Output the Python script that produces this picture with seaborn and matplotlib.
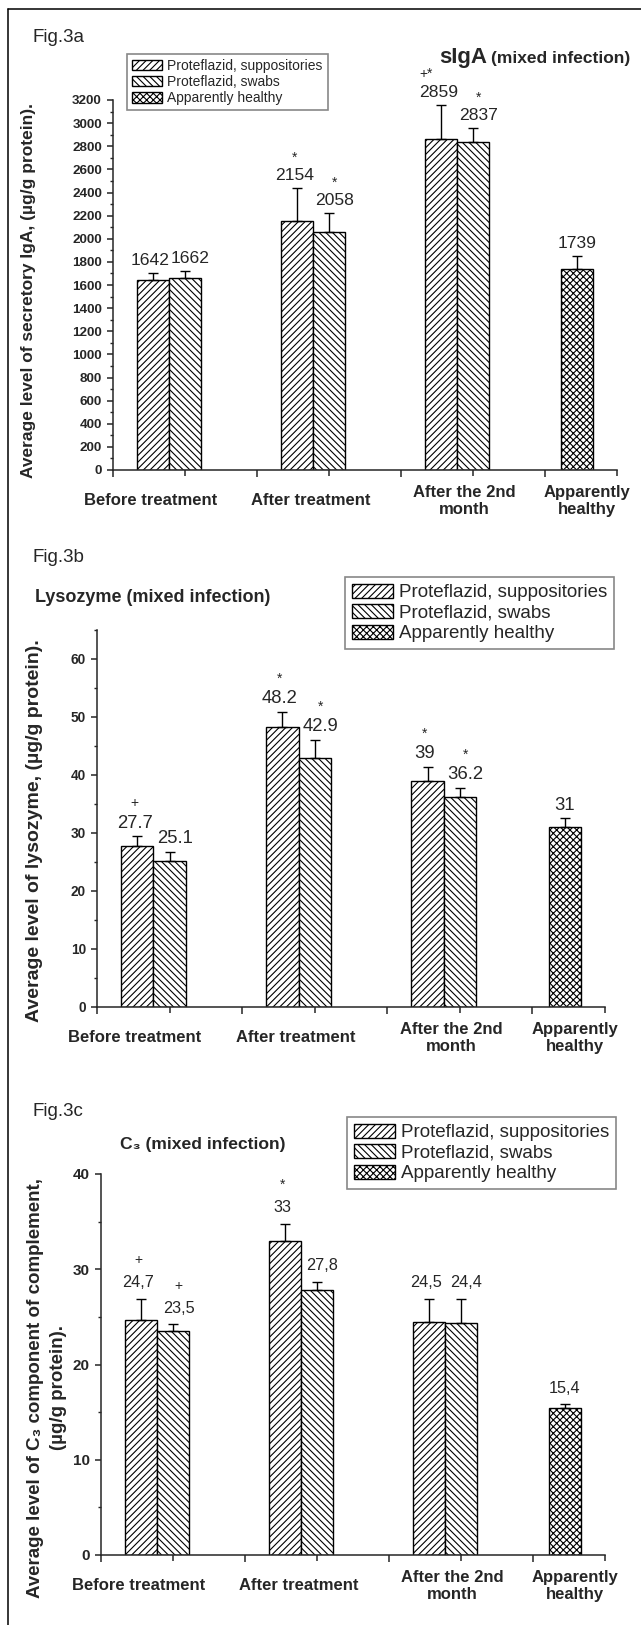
import matplotlib
matplotlib.use("Agg")
import numpy as np
import pandas as pd
import matplotlib.pyplot as plt
from matplotlib.patches import Patch
from matplotlib.lines import Line2D
from matplotlib.ticker import MultipleLocator
import seaborn as sns

# chart data
categories = ["Before treatment", "After treatment", "After the 2nd\nmonth", "Apparently\nhealthy"]
series = ["Proteflazid, suppositories", "Proteflazid, swabs", "Apparently healthy"]

siga_supp = [1642, 2154, 2859]
siga_supp_err = [60, 285, 300]
siga_swab = [1662, 2058, 2837]
siga_swab_err = [63, 165, 122]
siga_healthy = 1739
siga_healthy_err = 110
siga_supp_marks = ["", "*", "+*"]
siga_swab_marks = ["", "*", "*"]

lys_supp = [27.7, 48.2, 39]
lys_supp_err = [1.7, 2.6, 2.4]
lys_swab = [25.1, 42.9, 36.2]
lys_swab_err = [1.6, 3.1, 1.6]
lys_healthy = 31
lys_healthy_err = 1.5
lys_supp_marks = ["+", "*", "*"]
lys_swab_marks = ["", "*", "*"]

c3_supp = [24.7, 33, 24.5]
c3_supp_err = [2.2, 1.8, 2.4]
c3_swab = [23.5, 27.8, 24.4]
c3_swab_err = [0.7, 0.9, 2.5]
c3_healthy = 15.4
c3_healthy_err = 0.45
c3_supp_marks = ["+", "*", ""]
c3_swab_marks = ["+", "", ""]

W, H = 641, 1625
sns.set_style("ticks")
plt.rcParams["font.family"] = ["Liberation Sans", "DejaVu Sans"]
plt.rcParams["hatch.linewidth"] = 0.8
plt.rcParams["axes.linewidth"] = 1.1

hatches = ["/////", "\\\\\\\\\\", "xxxxx"]
bar_w = 2 / 9
cat_label_x = [0.26, 1.37, 2.44, 3.29]


def fx(x):
    return x / W


def fy(y):
    return 1 - y / H


def draw_panel(ax, supp, supp_err, swab, swab_err, healthy, healthy_err,
               supp_marks, swab_marks, ymax, major, minor, tick_fs, val_fs,
               val_dy, mark_dy, comma=False):
    pos, vals, errs, grp, marks = [], [], [], [], []
    for i in range(3):
        pos += [i + 0.5 - bar_w, i + 0.5]
        vals += [supp[i], swab[i]]
        errs += [supp_err[i], swab_err[i]]
        grp += [series[0], series[1]]
        marks += [supp_marks[i], swab_marks[i]]
    pos.append(3 + bar_w)
    vals.append(healthy)
    errs.append(healthy_err)
    grp.append(series[2])
    marks.append("")
    df = pd.DataFrame({"pos": pos, "value": vals, "series": grp})

    sns.barplot(data=df, x="pos", y="value", hue="series", hue_order=series,
                native_scale=True, dodge=False, width=1.0, errorbar=None,
                palette=["white"] * 3, saturation=1, edgecolor="black",
                linewidth=1.0, legend=False, ax=ax)
    for p in ax.patches:
        c = p.get_x() + p.get_width() / 2
        if c > 3:
            p.set_hatch(hatches[2])
        elif c % 1 < 0.4:
            p.set_hatch(hatches[0])
        else:
            p.set_hatch(hatches[1])

    ax.errorbar(pos, vals, yerr=[np.zeros(len(errs)), errs], fmt="none",
                ecolor="black", elinewidth=1.0, capsize=3.6, capthick=1.0,
                zorder=4)

    for x, v, e, g, m in zip(pos, vals, errs, grp, marks):
        dx = -2 if g == series[0] else (4 if g == series[1] else 0)
        txt = f"{v:g}"
        if comma:
            txt = txt.replace(".", ",")
        ax.annotate(txt, xy=(x, v + e), xytext=(dx, val_dy),
                    textcoords="offset points", ha="center", va="bottom",
                    fontsize=val_fs, annotation_clip=False)
        if m:
            mdx = dx - 9 if len(m) > 1 else dx
            ax.annotate(m, xy=(x, v + e), xytext=(mdx, mark_dy),
                        textcoords="offset points", ha="center", va="center",
                        fontsize=10, annotation_clip=False)

    for x, lab in zip(cat_label_x, categories):
        ax.annotate(lab, xy=(x, 0), xycoords=("data", "axes fraction"),
                    xytext=(0, -22.3), textcoords="offset points",
                    ha="center", va="center", fontsize=12, fontweight="bold",
                    linespacing=1.15, annotation_clip=False)

    ax.set_xlim(0, 3.5)
    ax.set_ylim(0, ymax)
    ax.set_xticks([0, 1, 2, 3])
    ax.set_xticks([0.5, 1.5, 2.5, 3.5], minor=True)
    ax.set_xticklabels([])
    ax.yaxis.set_major_locator(MultipleLocator(major))
    ax.yaxis.set_minor_locator(MultipleLocator(minor))
    ax.tick_params(axis="x", which="major", direction="out", length=5, width=1.1)
    ax.tick_params(axis="x", which="minor", direction="out", length=4, width=1.1)
    ax.tick_params(axis="y", which="major", direction="out", length=4.5,
                   width=1.1, labelsize=tick_fs)
    ax.tick_params(axis="y", which="minor", direction="out", length=2.5, width=1.0)
    for t in ax.get_yticklabels():
        t.set_fontweight("bold")
    ax.set_xlabel("")
    ax.set_ylabel("")
    sns.despine(ax=ax)


fig = plt.figure(figsize=(W / 100, H / 100), dpi=100)

# frame lines around the figure
fig.add_artist(Line2D([fx(8), 1], [fy(9), fy(9)], color="black", lw=1.1))
fig.add_artist(Line2D([fx(8), fx(8)], [fy(9), 0], color="black", lw=1.1))

ax_a = fig.add_axes([fx(113), fy(470), 504 / W, 370 / H])
ax_b = fig.add_axes([fx(97), fy(1007), 508 / W, 377 / H])
ax_c = fig.add_axes([fx(101), fy(1555), 504 / W, 381 / H])

draw_panel(ax_a, siga_supp, siga_supp_err, siga_swab, siga_swab_err,
           siga_healthy, siga_healthy_err, siga_supp_marks, siga_swab_marks,
           3200, 200, 100, 9.7, 12.6, 3.5, 22)
draw_panel(ax_b, lys_supp, lys_supp_err, lys_swab, lys_swab_err,
           lys_healthy, lys_healthy_err, lys_supp_marks, lys_swab_marks,
           65, 10, 5, 9.8, 13.3, 3.5, 24)
draw_panel(ax_c, c3_supp, c3_supp_err, c3_swab, c3_swab_err,
           c3_healthy, c3_healthy_err, c3_supp_marks, c3_swab_marks,
           40, 10, 5, 11, 11.7, 6, 28, comma=True)

# figure labels and titles
for y, s in [(37, "Fig.3a"), (558, "Fig.3b"), (1112, "Fig.3c")]:
    fig.text(fx(32), fy(y), s, fontsize=13.5, ha="left", va="center")

fig.text(fx(439), fy(57), "sIgA", fontsize=16, fontweight="bold", va="center")
fig.text(fx(491), fy(58), "(mixed infection)", fontsize=12.5, fontweight="bold", va="center")
fig.text(fx(35), fy(597), "Lysozyme (mixed infection)", fontsize=13, fontweight="bold", va="center")
fig.text(fx(120), fy(1145), "C\u2083 (mixed infection)", fontsize=12.6, fontweight="bold", va="center")

fig.text(fx(29), fy(290), "Average level of secretory IgA, (\u00b5g/g protein).",
         rotation=90, ha="center", va="center", fontsize=12.5, fontweight="bold")
fig.text(fx(35), fy(831), "Average level of lysozyme, (\u00b5g/g protein).",
         rotation=90, ha="center", va="center", fontsize=14, fontweight="bold")
fig.text(fx(47), fy(1388),
         "Average level of C\u2083 component of complement,\n(\u00b5g/g protein).",
         rotation=90, ha="center", va="center", multialignment="center",
         fontsize=13.5, fontweight="bold", linespacing=1.45)

# legends
handles = [Patch(facecolor="white", edgecolor="black", hatch=h, linewidth=1.0, label=s)
           for h, s in zip(hatches, series)]
for (x, y), fs in [((127, 54), 10), ((345, 577), 13.5), ((347, 1117), 13.5)]:
    leg = fig.legend(handles=handles, loc="upper left", bbox_to_anchor=(fx(x), fy(y)),
                     frameon=True, fancybox=False, framealpha=1, edgecolor="#888888",
                     fontsize=fs, handlelength=2.2, handleheight=0.8,
                     handletextpad=0.35, labelspacing=0.15, borderpad=0.35,
                     borderaxespad=0)
    leg.get_frame().set_linewidth(1.2)

fig.savefig("out.png", dpi=100)
